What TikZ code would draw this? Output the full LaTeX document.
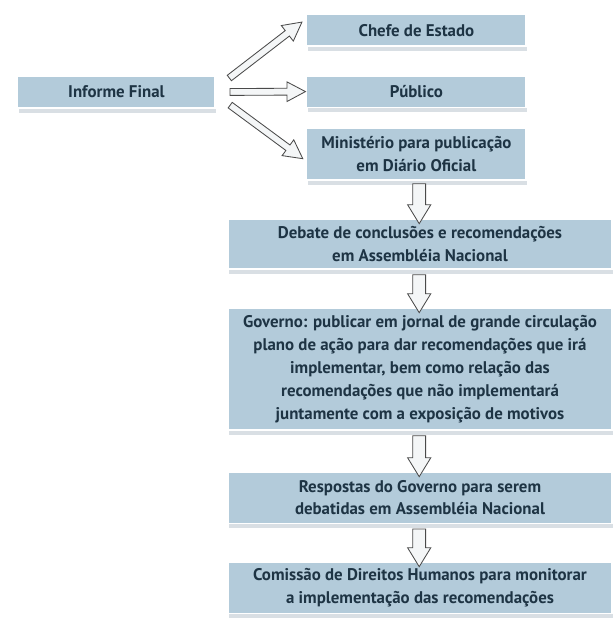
\documentclass[tikz,border=0pt]{standalone}
\usepackage{fontspec}
\setmainfont{PT Sans}
\usetikzlibrary{positioning,arrows.meta,calc,shadows,shapes.arrows}
\definecolor{ink}{HTML}{1E3444}
\definecolor{steel}{HTML}{B3CBDA}
\definecolor{shade}{HTML}{D9DFE4}
\definecolor{edge}{HTML}{4A4A4A}
\definecolor{hollow}{HTML}{F4F6F7}
\tikzset{
  box/.style={fill=steel,draw=white,line width=0.8pt,text=ink,align=center,inner sep=2pt,
    font=\bfseries\fontsize{12}{16.3}\selectfont,
    drop shadow={shadow xshift=1pt,shadow yshift=-3.5pt,fill=shade,opacity=1}},
  fanarrow/.style={single arrow,draw=edge,fill=hollow,line width=0.6pt,inner xsep=0pt,inner ysep=0.075cm,
    single arrow head extend=0.16cm,single arrow tip angle=56,sloped},
  downarrow/.style={single arrow,draw=edge,fill=hollow,line width=0.6pt,inner xsep=0pt,inner ysep=0.15cm,
    single arrow head extend=0.13cm,single arrow tip angle=63,sloped}}
\newcommand\hollowflow[3]{%
  \path let \p1=($(#3)-(#2)$), \n1={veclen(\x1,\y1)} in
    (#2) -- node[#1,minimum height=\n1] {} (#3);}
\begin{document}
\begin{tikzpicture}
  \useasboundingbox (0,0) rectangle (15.35,-15.475);
  \node[box,minimum width=4.93cm,minimum height=0.8cm] (inf) at (2.91,-2.30) {Informe Final};
  \node[box,minimum width=5.48cm,minimum height=0.78cm] (chefe) at (10.41,-0.76) {Chefe de Estado};
  \node[box,minimum width=5.48cm,minimum height=0.78cm] (pub) at (10.41,-2.29) {Público};
  \node[box,minimum width=5.48cm,minimum height=1.28cm] (min) at (10.41,-3.86) {Ministério para publicação\\em Diário Oficial};
  \node[box,minimum width=9.6cm,minimum height=1.25cm] (deb) at (10.5,-6.1) {Debate de conclusões e recomendações\\em Assembléia Nacional};
  \node[box,minimum width=9.6cm,minimum height=3.05cm] (gov) at (10.5,-9.225) {Governo: publicar em jornal de grande circulação\\plano de ação para dar recomendações que irá\\implementar, bem como relação das\\recomendações que não implementará\\juntamente com a exposição de motivos};
  \node[box,minimum width=9.6cm,minimum height=1.28cm] (resp) at (10.5,-12.44) {Respostas do Governo para serem\\debatidas em Assembléia Nacional};
  \node[box,minimum width=9.6cm,minimum height=1.28cm] (com) at (10.5,-14.69) {Comissão de Direitos Humanos para monitorar\\a implementação das recomendações};
  % fan out from the final report
  \coordinate (f1) at ($(inf.east)+(0.28,0.3)$);
  \coordinate (f2) at ($(inf.east)+(0.28,0)$);
  \coordinate (f3) at ($(inf.east)+(0.3,-0.28)$);
  \coordinate (t1) at ($(chefe.west)+(-0.17,0.16)$);
  \coordinate (t2) at ($(pub.west)+(-0.1,0)$);
  \coordinate (t3) at ($(min.west)+(-0.15,-0.06)$);
  \hollowflow{fanarrow}{f1}{t1}
  \hollowflow{fanarrow}{f2}{t2}
  \hollowflow{fanarrow}{f3}{t3}
  % chain downwards
  \coordinate (d1) at ($(min.south)+(0.07,0.05)$);
  \hollowflow{downarrow}{d1}{d1 |- deb.north}
  \hollowflow{downarrow}{d1 |- deb.south}{d1 |- gov.north}
  \hollowflow{downarrow}{d1 |- gov.south}{d1 |- resp.north}
  \hollowflow{downarrow}{d1 |- resp.south}{d1 |- com.north}
\end{tikzpicture}
\end{document}
